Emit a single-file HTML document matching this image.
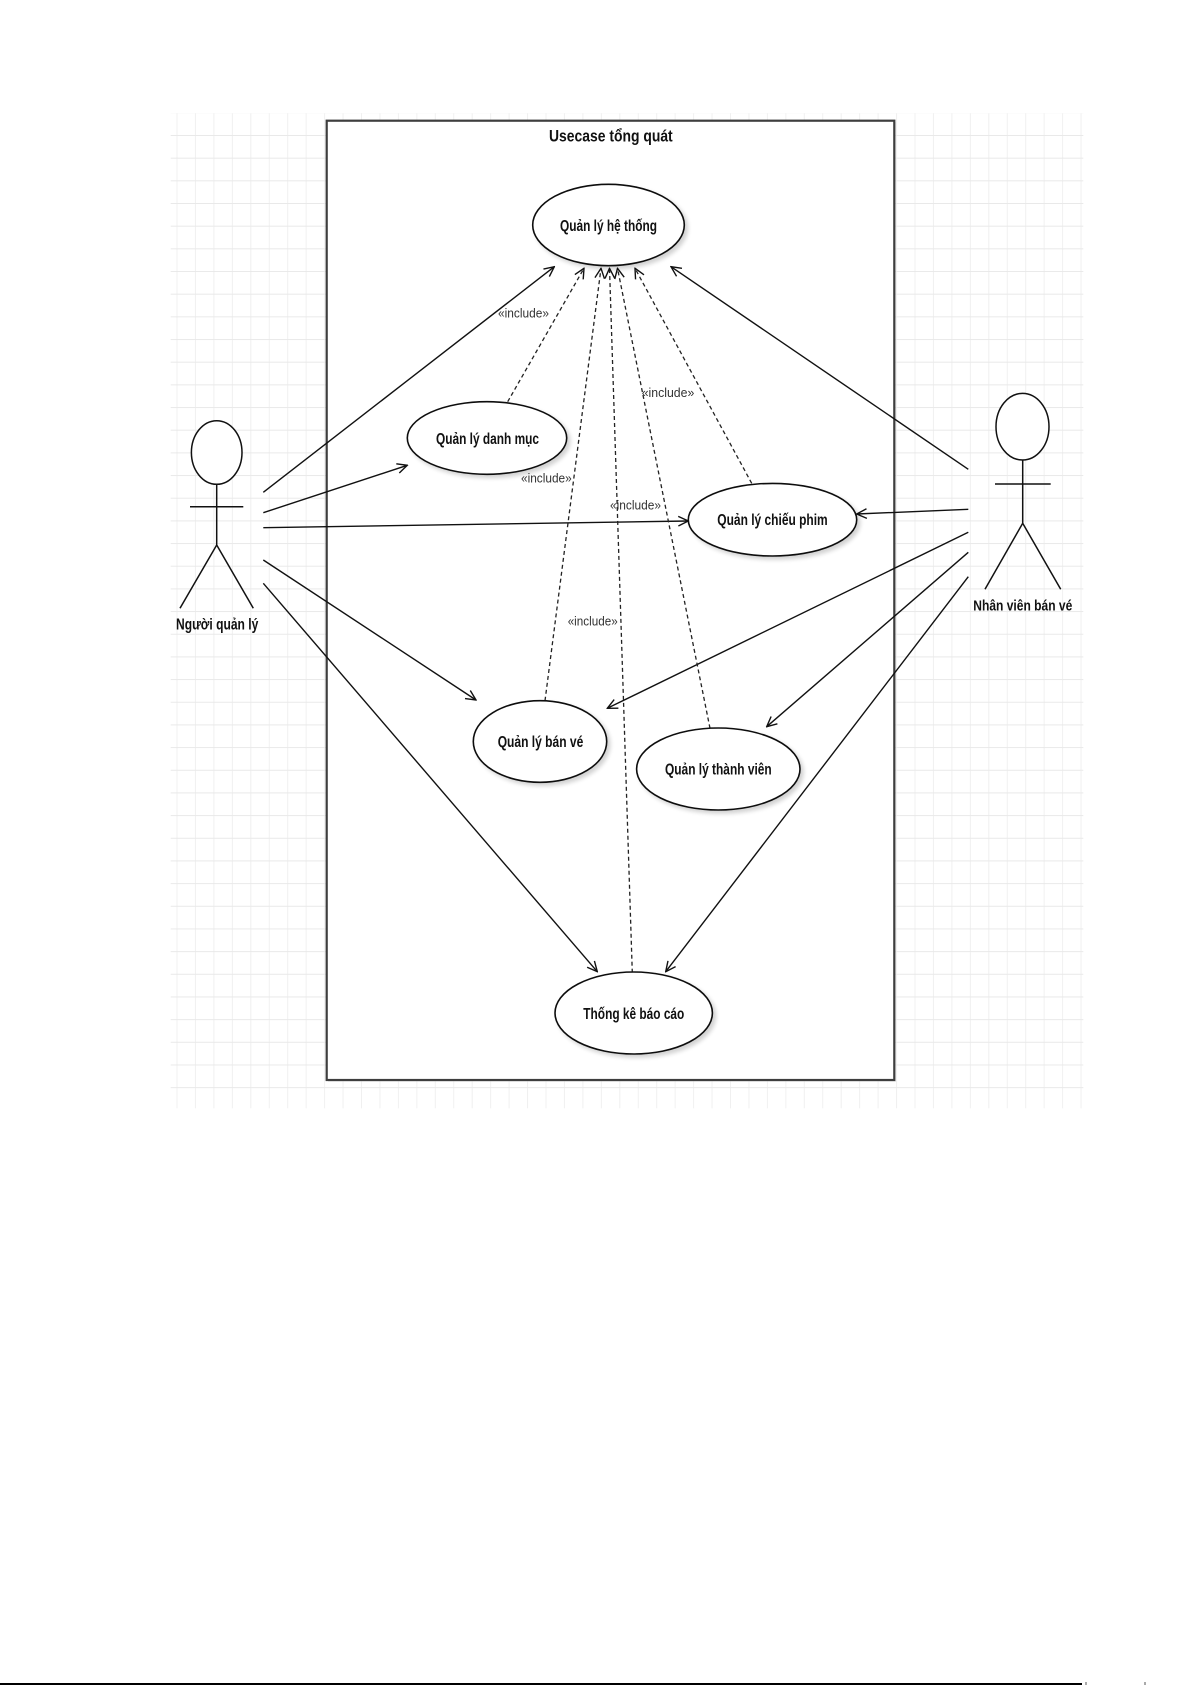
<!DOCTYPE html>
<html>
<head>
<meta charset="utf-8">
<style>
  html, body { margin: 0; padding: 0; background: #fff; }
  svg { display: block; }
  text { font-family: "Liberation Sans", "DejaVu Sans", sans-serif; }
</style>
</head>
<body>
<svg width="1192" height="1685" viewBox="0 0 1192 1685" xmlns="http://www.w3.org/2000/svg">
  <defs>
    <pattern id="gridV" patternUnits="userSpaceOnUse" x="176.5" y="0" width="18.45" height="40">
      <line x1="0.5" y1="0" x2="0.5" y2="40" stroke="#f0f0f0" stroke-width="1"/>
    </pattern>
    <pattern id="gridH" patternUnits="userSpaceOnUse" x="0" y="135" width="40" height="22.67">
      <line x1="0" y1="0.5" x2="40" y2="0.5" stroke="#e9e9e9" stroke-width="1"/>
    </pattern>
    <marker id="arr" viewBox="0 0 12 12" refX="11" refY="6" markerWidth="12" markerHeight="12" markerUnits="userSpaceOnUse" orient="auto">
      <path d="M1,1.2 L11,6 L1,10.8" fill="none" stroke="#111" stroke-width="1.4" stroke-dasharray="none"/>
    </marker>
    <filter id="sh" x="-20%" y="-20%" width="150%" height="150%">
      <feGaussianBlur in="SourceAlpha" stdDeviation="2"/>
      <feOffset dx="3" dy="3" result="b"/>
      <feComponentTransfer><feFuncA type="linear" slope="0.18"/></feComponentTransfer>
      <feMerge><feMergeNode/><feMergeNode in="SourceGraphic"/></feMerge>
    </filter>
  </defs>

  <!-- grid background -->
  <rect x="170.7" y="113.3" width="912.6" height="995" fill="url(#gridV)"/>
  <rect x="170.7" y="113.3" width="912.6" height="995" fill="url(#gridH)"/>

  <!-- system frame -->
  <rect x="328" y="122" width="568" height="960" fill="#cfcfcf" opacity="0.35"/>
  <rect x="326.7" y="120.7" width="567.6" height="959.3" fill="#fff" stroke="#3e3e3e" stroke-width="2.2"/>
  <text x="549" y="141.7" font-size="17" font-weight="bold" textLength="123.7" lengthAdjust="spacingAndGlyphs" fill="#111">Usecase tổng quát</text>

  <!-- solid associations from Người quản lý -->
  <g stroke="#111" stroke-width="1.4" fill="none" marker-end="url(#arr)">
    <line x1="263.3" y1="492.3" x2="554.3" y2="266.7"/>
    <line x1="263.3" y1="512.7" x2="407.3" y2="465.3"/>
    <line x1="263.3" y1="527.7" x2="688.3" y2="521"/>
    <line x1="263.3" y1="560" x2="476" y2="700"/>
    <line x1="263.3" y1="583.3" x2="597.3" y2="971.7"/>
  </g>
  <!-- solid associations from Nhân viên bán vé -->
  <g stroke="#111" stroke-width="1.4" fill="none" marker-end="url(#arr)">
    <line x1="968.3" y1="469.3" x2="671" y2="266.7"/>
    <line x1="968.3" y1="509.3" x2="856.7" y2="514"/>
    <line x1="968.3" y1="532.3" x2="607.3" y2="708.3"/>
    <line x1="968.3" y1="552.3" x2="766.7" y2="726.7"/>
    <line x1="968.3" y1="576.7" x2="665.7" y2="971.7"/>
  </g>
  <!-- include (dashed) -->
  <g stroke="#222" stroke-width="1.3" fill="none" stroke-dasharray="4 3" marker-end="url(#arr)">
    <line x1="507.7" y1="401.7" x2="584" y2="268.3"/>
    <line x1="545" y1="700.7" x2="601" y2="268.3"/>
    <line x1="632.3" y1="972.7" x2="609.5" y2="268.3"/>
    <line x1="710" y1="728.3" x2="617.5" y2="268.3"/>
    <line x1="751.7" y1="483.3" x2="635" y2="268.3"/>
  </g>

  <!-- use case ellipses -->
  <g fill="#fff" stroke="#111" stroke-width="1.6" filter="url(#sh)">
    <ellipse cx="608.5" cy="225" rx="75.8" ry="40.7"/>
    <ellipse cx="487" cy="438" rx="79.7" ry="36.3"/>
    <ellipse cx="772.5" cy="519.7" rx="84.2" ry="36.3"/>
    <ellipse cx="540" cy="741.5" rx="66.7" ry="40.8"/>
    <ellipse cx="718.3" cy="769" rx="81.7" ry="41"/>
    <ellipse cx="633.7" cy="1013" rx="78.7" ry="41"/>
  </g>
  <g font-size="16" font-weight="bold" fill="#111">
    <text x="560" y="231" textLength="97" lengthAdjust="spacingAndGlyphs">Quản lý hệ thống</text>
    <text x="436" y="444" textLength="103" lengthAdjust="spacingAndGlyphs">Quản lý danh mục</text>
    <text x="717.3" y="525" textLength="110.4" lengthAdjust="spacingAndGlyphs">Quản lý chiếu phim</text>
    <text x="497.7" y="747" textLength="85.6" lengthAdjust="spacingAndGlyphs">Quản lý bán vé</text>
    <text x="665" y="774.5" textLength="106.7" lengthAdjust="spacingAndGlyphs">Quản lý thành viên</text>
    <text x="583.3" y="1019" textLength="101" lengthAdjust="spacingAndGlyphs">Thống kê báo cáo</text>
  </g>

  <!-- include labels -->
  <g font-size="13" fill="#333">
    <text x="498" y="317.5" textLength="51" lengthAdjust="spacingAndGlyphs">«include»</text>
    <text x="641.7" y="397" textLength="52.6" lengthAdjust="spacingAndGlyphs">«include»</text>
    <text x="521" y="482.5" textLength="50.7" lengthAdjust="spacingAndGlyphs">«include»</text>
    <text x="610" y="509.5" textLength="51" lengthAdjust="spacingAndGlyphs">«include»</text>
    <text x="567.7" y="625.5" textLength="50" lengthAdjust="spacingAndGlyphs">«include»</text>
  </g>

  <!-- actor: Người quản lý -->
  <g stroke="#111" stroke-width="1.5" fill="none">
    <ellipse cx="216.7" cy="452.5" rx="25.3" ry="31.8" fill="#fff"/>
    <line x1="216.7" y1="484.3" x2="216.7" y2="545"/>
    <line x1="190" y1="506.7" x2="243.3" y2="506.7"/>
    <line x1="216.7" y1="545" x2="180" y2="608.3"/>
    <line x1="216.7" y1="545" x2="253.3" y2="608.3"/>
  </g>
  <text x="176" y="629.3" font-size="16" font-weight="bold" fill="#111" textLength="82.3" lengthAdjust="spacingAndGlyphs">Người quản lý</text>

  <!-- actor: Nhân viên bán vé -->
  <g stroke="#111" stroke-width="1.5" fill="none">
    <ellipse cx="1022.5" cy="426.7" rx="26.5" ry="33.3" fill="#fff"/>
    <line x1="1022.7" y1="460" x2="1022.7" y2="523.3"/>
    <line x1="995" y1="484" x2="1050.7" y2="484"/>
    <line x1="1022.7" y1="523.3" x2="985" y2="589.3"/>
    <line x1="1022.7" y1="523.3" x2="1060.7" y2="589.3"/>
  </g>
  <text x="973.3" y="610.5" font-size="15" font-weight="bold" fill="#111" textLength="99" lengthAdjust="spacingAndGlyphs">Nhân viên bán vé</text>

  <!-- page bottom rule -->
  <line x1="0" y1="1684" x2="1082" y2="1684" stroke="#000" stroke-width="2"/>
  <line x1="1086" y1="1682" x2="1086" y2="1685" stroke="#555" stroke-width="1"/>
  <line x1="1145" y1="1682" x2="1145" y2="1685" stroke="#555" stroke-width="1"/>
</svg>
</body>
</html>
